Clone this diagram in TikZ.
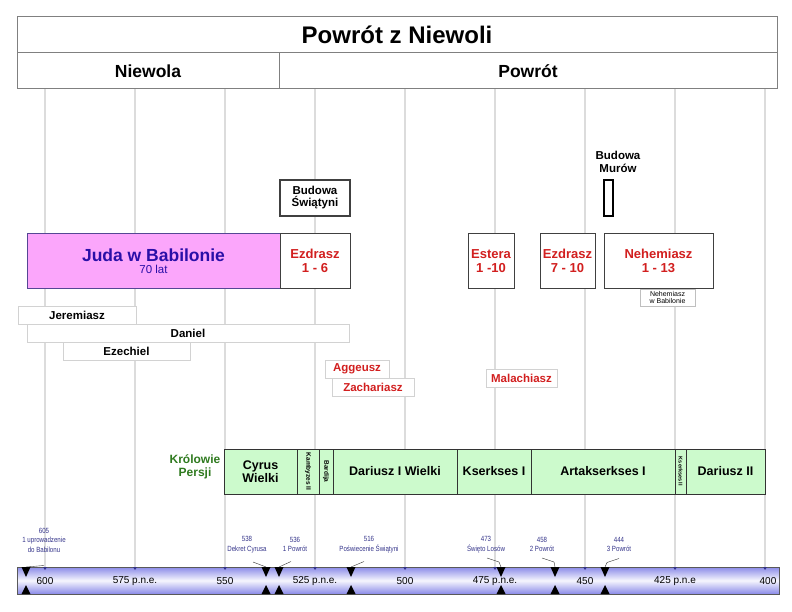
\documentclass[tikz,border=0pt]{standalone}
\usepackage{fontspec}
\setmainfont{Liberation Sans}
\newfontfamily\narrowfont[FakeStretch=0.82]{Liberation Sans}
\usepackage{tikz}
\usetikzlibrary{calc, positioning, shadows, backgrounds}
\definecolor{gridgrey}{HTML}{DCDCDC}
\definecolor{bookred}{HTML}{D21F1F}
\definecolor{judablue}{HTML}{2A0FA8}
\definecolor{judapink}{HTML}{FBA6FB}
\definecolor{kinggreen}{HTML}{CCFACC}
\definecolor{persgreen}{HTML}{2F7A1F}
\definecolor{eventblue}{HTML}{35358A}
\definecolor{barblue}{HTML}{8A8AE8}
\tikzstyle{hdr}=[draw=gray, line width=1pt, inner sep=0pt, minimum height=36pt]
\tikzstyle{book}=[draw=black!75, line width=1pt, fill=white, inner sep=0pt, align=center, text=bookred, minimum height=54pt, font=\bfseries\fontsize{13}{14}\selectfont]
\tikzstyle{proph}=[draw=gray!35, fill=white, inner sep=0pt, minimum height=18pt, font=\bfseries\fontsize{11.5}{11.5}\selectfont, drop shadow={opacity=0.12, shadow xshift=1pt, shadow yshift=-1pt}]
\tikzstyle{king}=[draw=black!80, line width=1pt, fill=kinggreen, inner sep=0pt, align=center, minimum height=45pt, font=\bfseries\fontsize{12.5}{13}\selectfont]
\tikzstyle{kingrot}=[king, rotate=-90, minimum width=45pt, font=\bfseries\fontsize{6.5}{6.5}\selectfont]
\tikzstyle{evt}=[inner sep=0pt, align=center, text=eventblue, font=\narrowfont\fontsize{7.5}{9.5}\selectfont]
\tikzstyle{yr}=[inner sep=0pt, font=\fontsize{10}{11}\selectfont]
\tikzset{>=stealth}

\begin{document}
\begin{tikzpicture}[x=1pt, y=-1pt]
\useasboundingbox (0,0) rectangle (792,612);
% the grid lines
\draw[gridgrey, line width=1.5pt] (45,89) -- (45,567) (135,89) -- (135,567) (225,89) -- (225,567)
  (315,89) -- (315,567) (405,89) -- (405,567) (495,89) -- (495,567)
  (585,89) -- (585,567) (675,89) -- (675,567) (765,89) -- (765,567);
% the heading
\node[hdr, minimum width=760pt, font=\bfseries\fontsize{24}{24}\selectfont] (title) at (397,35) {Powrót z Niewoli};
\node[hdr, minimum width=262pt, font=\bfseries\fontsize{17.5}{17.5}\selectfont] (niewola) at (148,71) {Niewola};
\node[hdr, minimum width=498pt, font=\bfseries\fontsize{17.5}{17.5}\selectfont] (powrot) at (528,71) {Powrót};
% the books
\node[book, minimum width=70pt, minimum height=36pt, line width=1.5pt, text=black, font=\bfseries\fontsize{11.5}{12}\selectfont] (swiatynia) at (315,198) {Budowa\\Świątyni};
\node[draw=judablue!50!gray, line width=1pt, fill=judapink, minimum width=253pt, minimum height=54pt, inner sep=0pt, align=center, text=judablue] (juda) at (153.5,261) {{\bfseries\fontsize{17.5}{17.5}\selectfont Juda w Babilonie}\\{\fontsize{11.5}{13}\selectfont 70 lat}};
\node[book, minimum width=70pt] (ezd1) at (315,261) {Ezdrasz\\1 - 6};
\node[book, minimum width=46pt] (estera) at (491,261) {Estera\\1 -10};
\node[book, minimum width=55pt] (ezd7) at (567.5,261) {Ezdrasz\\7 - 10};
\node[book, minimum width=109pt] (nehem) at (658.5,261) {Nehemiasz\\1 - 13};
\node[draw, line width=1.2pt, fill=white, minimum width=9pt, minimum height=36pt, inner sep=0pt] (mury) at (608.5,198) {};
\node[inner sep=0pt, align=center, font=\bfseries\fontsize{11.5}{12.5}\selectfont] (murylab) at (618,162) {Budowa\\Murów};
\node[proph, draw=gray!50, minimum width=55pt, minimum height=17pt, align=center, font=\fontsize{7}{7.5}\selectfont] (nehbab) at (667.5,297.5) {Nehemiasz\\w Babilonie};
% the prophets
\node[proph, minimum width=118pt] (jer) at (77,315) {Jeremiasz};
\node[proph, minimum width=322pt] (dan) at (188,333) {Daniel};
\node[proph, minimum width=127pt] (eze) at (126.5,351) {Ezechiel};
\node[proph, minimum width=64pt, text=bookred] (agg) at (357,369) {Aggeusz};
\node[proph, minimum width=82pt, text=bookred] (zach) at (373,387) {Zachariasz};
\node[proph, minimum width=71pt, text=bookred] (mal) at (521.5,378) {Malachiasz};
% the kings
\node[inner sep=0pt, align=center, text=persgreen, font=\bfseries\fontsize{12}{13.5}\selectfont] (persja) at (195,467) {Królowie\\Persji};
\node[king, minimum width=73pt] (cyrus) at (260.5,471.5) {Cyrus\\Wielki};
\node[kingrot, minimum height=22pt] (kambyzes) at (308,471.5) {Kambyzes II};
\node[kingrot, minimum height=14pt] (bardija) at (326,471.5) {Bardija};
\node[king, minimum width=124pt] (dar1) at (395,471.5) {Dariusz I Wielki};
\node[king, minimum width=74pt] (kser1) at (494,471.5) {Kserkses I};
\node[king, minimum width=144pt] (artak) at (603,471.5) {Artakserkses I};
\node[kingrot, minimum height=11pt, font=\bfseries\fontsize{5.5}{5.5}\selectfont] (kser2) at (680.5,471.5) {Kserkses II};
\node[king, minimum width=79pt] (dar2) at (725.5,471.5) {Dariusz II};
% the time line
\shade[top color=barblue, bottom color=barblue, middle color=white!92!barblue] (17,567) rectangle (779,594);
\draw[black!65, line width=1pt] (17,567) rectangle (779,594);
\node[yr] (y600) at (45,581) {600};
\node[yr] (y575) at (135,581) {575 p.n.e.};
\node[yr] (y550) at (225,581) {550};
\node[yr] (y525) at (315,581) {525 p.n.e.};
\node[yr] (y500) at (405,581) {500};
\node[yr] (y475) at (495,581) {475 p.n.e.};
\node[yr] (y450) at (585,581) {450};
\node[yr] (y425) at (675,581) {425 p.n.e};
\node[yr] (y400) at (768,581) {400};
% small ticks on the bar
\fill[eventblue] (43,567) -- (47,567) -- (45,570) -- cycle;
\fill[eventblue] (133,567) -- (137,567) -- (135,570) -- cycle;
\fill[eventblue] (223,567) -- (227,567) -- (225,570) -- cycle;
\fill[eventblue] (313,567) -- (317,567) -- (315,570) -- cycle;
\fill[eventblue] (403,567) -- (407,567) -- (405,570) -- cycle;
\fill[eventblue] (493,567) -- (497,567) -- (495,570) -- cycle;
\fill[eventblue] (583,567) -- (587,567) -- (585,570) -- cycle;
\fill[eventblue] (673,567) -- (677,567) -- (675,570) -- cycle;
\fill[eventblue] (763,567) -- (767,567) -- (765,570) -- cycle;
% the events
\node[evt] (e605) at (44,540) {605\\1 uprowadzenie\\do Babilonu};
\node[evt] (e538) at (247,544.5) {538\\Dekret Cyrusa};
\node[evt] (e536) at (295,544.5) {536\\1 Powrót};
\node[evt] (e516) at (369,544.5) {516\\Poświecenie Świątyni};
\node[evt] (e473) at (486,544.5) {473\\Święto Losów};
\node[evt] (e458) at (542,544.5) {458\\2 Powrót};
\node[evt] (e444) at (619,544.5) {444\\3 Powrót};
\coordinate (m605) at (26,567);
\coordinate (m538) at (266,567);
\coordinate (m536) at (279,567);
\coordinate (m516) at (351,567);
\coordinate (m473) at (501,567);
\coordinate (m458) at (555,567);
\coordinate (m444) at (605,567);
\coordinate (t605) at (44,565.5);
\coordinate (t538) at (253,562);
\coordinate (t536) at (291,561.5);
\coordinate (t516) at (364,561.5);
\coordinate (t473) at (487,558);
\coordinate (t458) at (542,558);
\coordinate (t444) at (619,558.5);
\draw[black!80] (t605) -- (m605);
\draw[black!80] (t538) -- (m538);
\draw[black!80] (t536) -- (m536);
\draw[black!80] (t516) -- (m516);
\draw[black!80] (t473) -- ++(12,4) -- (m473);
\draw[black!80] (t458) -- ++(12,4) -- (m458);
\draw[black!80] (t444) -- ++(-12,4) -- (m444);
% the markers
\fill (21.5,567) -- (30.5,567) -- (26,577) -- cycle;  \fill (21.5,594) -- (30.5,594) -- (26,585) -- cycle;
\fill (261.5,567) -- (270.5,567) -- (266,577) -- cycle;  \fill (261.5,594) -- (270.5,594) -- (266,585) -- cycle;
\fill (274.5,567) -- (283.5,567) -- (279,577) -- cycle;  \fill (274.5,594) -- (283.5,594) -- (279,585) -- cycle;
\fill (346.5,567) -- (355.5,567) -- (351,577) -- cycle;  \fill (346.5,594) -- (355.5,594) -- (351,585) -- cycle;
\fill (496.5,567) -- (505.5,567) -- (501,577) -- cycle;  \fill (496.5,594) -- (505.5,594) -- (501,585) -- cycle;
\fill (550.5,567) -- (559.5,567) -- (555,577) -- cycle;  \fill (550.5,594) -- (559.5,594) -- (555,585) -- cycle;
\fill (600.5,567) -- (609.5,567) -- (605,577) -- cycle;  \fill (600.5,594) -- (609.5,594) -- (605,585) -- cycle;
\end{tikzpicture}
\end{document}
